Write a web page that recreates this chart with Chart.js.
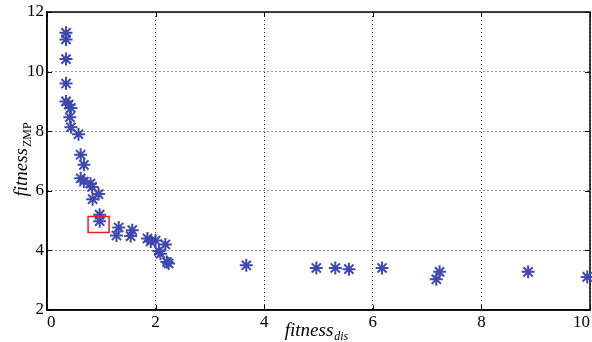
<!DOCTYPE html>
<html>
<head>
<meta charset="utf-8">
<script src="https://cdn.jsdelivr.net/npm/chart.js@4"></script>
<style>
  html, body { margin: 0; padding: 0; background: #fff; overflow: hidden; }
  #wrap { width: 592px; height: 342px; }
</style>
</head>
<body>
<div id="wrap"><canvas id="grafico"></canvas></div>
<script>
// pareto front values
const fitnessDis = [0.35, 0.35, 0.35, 0.35, 0.35, 0.40, 0.44, 0.42, 0.44, 0.58,
  0.62, 0.68, 0.62, 0.68, 0.80, 0.83, 0.95, 0.84, 0.97, 0.97,
  1.32, 1.28, 1.57, 1.54, 1.85, 1.91, 2.00, 2.18, 2.06, 2.09,
  2.21, 2.24, 3.67, 4.96, 5.31, 5.56, 6.17, 7.23, 7.17, 8.86, 9.95];
const fitnessZmp = [11.30, 11.08, 10.42, 9.60, 9.00, 8.89, 8.78, 8.47, 8.13, 7.90,
  7.21, 6.87, 6.42, 6.31, 6.24, 6.13, 5.89, 5.72, 5.20, 4.98,
  4.77, 4.50, 4.68, 4.48, 4.40, 4.30, 4.33, 4.20, 3.98, 3.89,
  3.61, 3.56, 3.50, 3.41, 3.41, 3.37, 3.41, 3.28, 3.03, 3.28, 3.11];
const selectedPoint = [0.95, 4.87];
const xTicks = [0, 2, 4, 6, 8, 10];
const yTicks = [2, 4, 6, 8, 10, 12];

const blue = 'rgb(62,72,175)';
const serif = '"Liberation Serif", "DejaVu Serif", serif';

const pontos = fitnessDis.map((x, i) => ({ x: x, y: fitnessZmp[i] }));

// box, inward ticks, red marker and axis titles with subscripts
const extras = {
  id: 'extras',
  beforeDatasetsDraw(chart) {
    const { ctx, chartArea: a, scales } = chart;
    ctx.save();
    ctx.strokeStyle = '#000';
    ctx.lineWidth = 1;
    xTicks.forEach(v => {
      const px = Math.round(scales.x.getPixelForValue(v)) + 0.5;
      ctx.beginPath();
      ctx.moveTo(px, a.bottom); ctx.lineTo(px, a.bottom - 5);
      ctx.moveTo(px, a.top); ctx.lineTo(px, a.top + 5);
      ctx.stroke();
    });
    yTicks.forEach(v => {
      const py = Math.round(scales.y.getPixelForValue(v)) + 0.5;
      ctx.beginPath();
      ctx.moveTo(a.left, py); ctx.lineTo(a.left + 5, py);
      ctx.moveTo(a.right, py); ctx.lineTo(a.right - 5, py);
      ctx.stroke();
    });
    ctx.lineWidth = 1.5;
    ctx.strokeRect(a.left, a.top, a.right - a.left, a.bottom - a.top);
    ctx.restore();
  },
  afterDatasetsDraw(chart) {
    const { ctx, scales } = chart;
    ctx.save();
    // red square round the chosen solution
    const cx = scales.x.getPixelForValue(selectedPoint[0]);
    const cy = scales.y.getPixelForValue(selectedPoint[1]);
    ctx.strokeStyle = 'rgb(230,30,30)';
    ctx.lineWidth = 1.5;
    ctx.strokeRect(cx - 10.5, cy - 8, 21, 16);

    // axis titles
    ctx.fillStyle = '#000';
    ctx.textBaseline = 'alphabetic';
    const drawTitle = (main, sub, subItalic) => {
      ctx.font = 'italic 19px ' + serif;
      const w1 = ctx.measureText(main).width;
      ctx.font = (subItalic ? 'italic ' : '') + '12px ' + serif;
      const w2 = ctx.measureText(sub).width;
      const x0 = -(w1 + w2) / 2;
      ctx.font = 'italic 19px ' + serif;
      ctx.fillText(main, x0, 0);
      ctx.font = (subItalic ? 'italic ' : '') + '12px ' + serif;
      ctx.fillText(sub, x0 + w1 + 1, 4);
    };
    ctx.save();
    ctx.translate(316, 336);
    drawTitle('fitness', 'dis', true);
    ctx.restore();
    ctx.save();
    ctx.translate(27, 160);
    ctx.rotate(-Math.PI / 2);
    drawTitle('fitness', 'ZMP', false);
    ctx.restore();
    ctx.restore();
  }
};

window.onload = function () {
  const ctx = document.getElementById('grafico').getContext('2d');
  new Chart(ctx, {
    type: 'scatter',
    data: {
      datasets: [{
        label: 'Pareto',
        data: pontos,
        pointStyle: 'star',
        pointRadius: 6.5,
        pointHoverRadius: 6.5,
        borderColor: blue,
        backgroundColor: blue,
        borderWidth: 2,
        clip: false
      }]
    },
    options: {
      responsive: true,
      maintainAspectRatio: false,
      animation: false,
      events: [],
      layout: { autoPadding: false, padding: { left: 0, right: 2, top: 12, bottom: 0 } },
      plugins: {
        legend: { display: false },
        tooltip: { enabled: false }
      },
      scales: {
        x: {
          type: 'linear',
          min: 0,
          max: 10,
          afterFit: s => { s.height = 32; s.paddingLeft = 0; s.paddingRight = 0; },
          afterBuildTicks: s => { s.ticks = xTicks.map(v => ({ value: v })); },
          ticks: {
            align: 'inner',
            padding: 2,
            color: '#000',
            font: { family: serif, size: 17 }
          },
          grid: {
            drawTicks: false,
            color: '#333',
            lineWidth: 1
          },
          border: { display: true, color: '#000', width: 1.5, dash: [1, 3] }
        },
        y: {
          type: 'linear',
          min: 2,
          max: 12,
          afterFit: s => { s.width = 47; s.paddingTop = 0; s.paddingBottom = 0; },
          afterBuildTicks: s => { s.ticks = yTicks.map(v => ({ value: v })); },
          ticks: {
            padding: 3,
            color: '#000',
            font: { family: serif, size: 17 }
          },
          grid: {
            drawTicks: false,
            color: '#333',
            lineWidth: 1
          },
          border: { display: true, color: '#000', width: 1.5, dash: [1, 3] }
        }
      }
    },
    plugins: [extras]
  });
};
</script>
</body>
</html>
